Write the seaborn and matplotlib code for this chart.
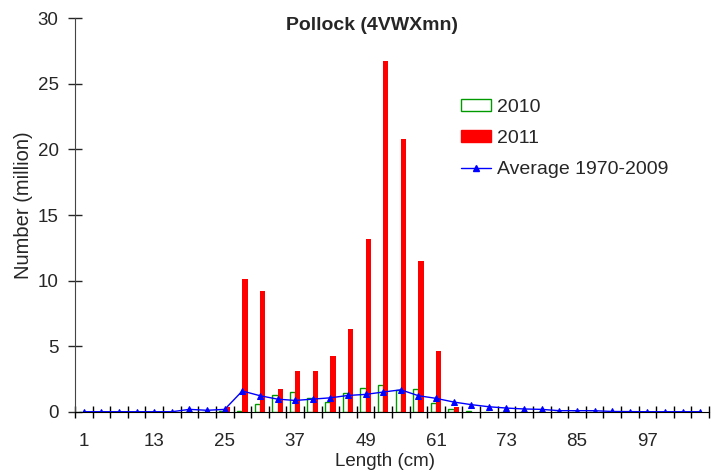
import numpy as np
import pandas as pd
import seaborn as sns
import matplotlib
matplotlib.use("Agg")
import matplotlib.pyplot as plt
from matplotlib.patches import Patch
from matplotlib.lines import Line2D

lengths = list(range(1, 107, 3))  # 36 classes
vals_2010 = [0, 0, 0, 0, 0, 0, 0.02, 0.02, 0.05, 0.1, 0.6, 1.26, 1.56, 1.08, 0.78, 1.44,
             1.82, 2.02, 1.65, 1.74, 0.7, 0.25, 0.1, 0, 0, 0, 0, 0, 0, 0, 0, 0, 0, 0, 0, 0]
vals_2011 = [0, 0, 0, 0, 0, 0, 0, 0, 0.4, 10.1, 9.2, 1.77, 3.15, 3.15, 4.27, 6.3,
             13.2, 26.7, 20.8, 11.5, 4.65, 0.4, 0, 0, 0, 0, 0, 0, 0, 0, 0, 0, 0, 0, 0, 0]
avg_1970_2009 = [0.02, 0.02, 0.02, 0.02, 0.02, 0.02, 0.2, 0.13, 0.2, 1.6, 1.24, 0.98, 0.88, 0.98, 1.08, 1.26,
                 1.34, 1.52, 1.69, 1.24, 1.04, 0.76, 0.56, 0.4, 0.3, 0.23, 0.2, 0.1, 0.1, 0.1, 0.04, 0.03, 0.02, 0.02, 0.02, 0.02]
tick_labels = ["1", "13", "25", "37", "49", "61", "73", "85", "97"]

sns.set_style("ticks")
plt.rcParams['font.family'] = ['Liberation Sans', 'DejaVu Sans']

labels = [str(l) for l in lengths]
df = pd.DataFrame({
    "length": labels * 2,
    "value": vals_2010 + vals_2011,
    "series": ["2010"] * len(labels) + ["2011"] * len(labels),
})
df_avg = pd.DataFrame({"length": labels, "value": avg_1970_2009})

fig = plt.figure(figsize=(7.11, 4.76), dpi=100)
ax = fig.add_axes([75 / 711, 1 - 412 / 476, 634 / 711, 394 / 476])

sns.barplot(data=df, x="length", y="value", hue="series", order=labels,
            palette={"2010": "white", "2011": "#FF0000"}, width=0.6,
            saturation=1, legend=False, ax=ax, linewidth=0)
for bar in ax.containers[0]:
    bar.set_edgecolor("#009900")
    bar.set_linewidth(1.0)
for bar in ax.containers[1]:
    bar.set_edgecolor("#FF0000")
    bar.set_linewidth(0)

sns.pointplot(data=df_avg, x="length", y="value", order=labels, color="#0000FF",
              markers="^", linewidth=1.0, markersize=5, ax=ax)

n = len(labels)
ax.set_xlim(-0.5, n - 0.5)
ax.set_ylim(0, 30)
ax.set_yticks(range(0, 31, 5))
ax.set_xticks(range(0, n, 4))
ax.set_xticklabels(tick_labels)
ax.set_xticks(np.arange(-0.5, n, 1), minor=True)
ax.tick_params(axis="x", which="major", length=0, pad=15, labelsize=13.5)
ax.tick_params(axis="x", which="minor", direction="inout", length=9, width=1, color="black")
ax.tick_params(axis="y", direction="inout", length=9.5, width=1, labelsize=13.5, pad=7)
for s in ["top", "right"]:
    ax.spines[s].set_visible(False)
ax.spines["left"].set_color("#444444")
ax.spines["bottom"].set_color("black")

ax.set_xlabel("Length (cm)", fontsize=13.5)
ax.set_ylabel("Number (million)", fontsize=14.5)
ax.xaxis.set_label_coords((385 - 75) / 634, -(453 - 412) / 394)
ax.yaxis.set_label_coords((33 - 75) / 634, (412 - 205) / 394)

fig.text(372 / 711, 1 - 26 / 476, "Pollock (4VWXmn)", ha="center", va="center",
         fontsize=14, fontweight="bold")

handles = [
    Patch(facecolor="white", edgecolor="#009900", linewidth=1),
    Patch(facecolor="#FF0000", edgecolor="#FF0000"),
    Line2D([0], [0], color="#0000FF", lw=1, marker="^", markersize=5),
]
ax.legend(handles, ["2010", "2011", "Average 1970-2009"], loc="upper left",
          bbox_to_anchor=(461 / 711, 1 - 99 / 476), bbox_transform=fig.transFigure,
          frameon=False, fontsize=14, handlelength=1.55, handleheight=0.57,
          labelspacing=0.72, handletextpad=0.3, borderaxespad=0, borderpad=0)

fig.savefig("out.png", dpi=100)
